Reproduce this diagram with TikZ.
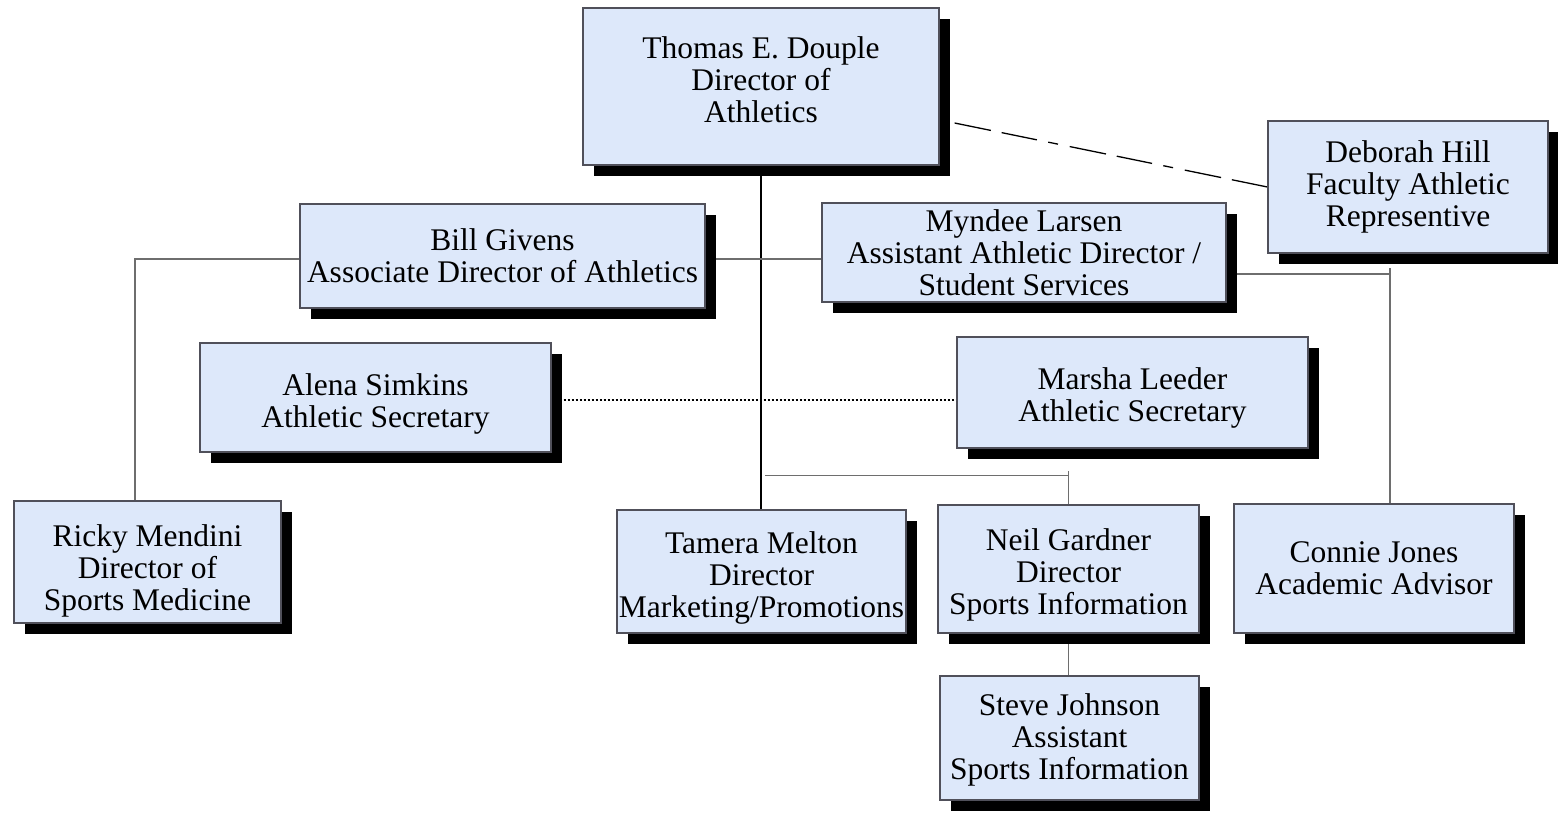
\documentclass[tikz,border=0pt]{standalone}
\usepackage{fontspec}
\setmainfont{Liberation Serif}
\usepackage{tikz}
\newcommand{\shadowoff}{11pt}
% nudge the text block of a box down / up (in px)
\newcommand{\shiftdown}[1]{\rule{0pt}{\dimexpr22pt+#1pt*2\relax}}
\newcommand{\shiftup}[1]{\rule[\dimexpr-#1pt*2\relax]{0pt}{\dimexpr#1pt*2\relax}}
\definecolor{boxBlue}{RGB}{221,232,250}
\definecolor{boxEdge}{RGB}{80,80,90}
\definecolor{lineGray}{RGB}{110,110,110}
\usetikzlibrary{calc,shadows}
\pgfdeclarelayer{bg}
\pgfsetlayers{bg,main}
\tikzset{
  font=\fontsize{31.5}{32}\selectfont,
  rect/.style={draw=boxEdge,fill=boxBlue,line width=1.2pt,shape=rectangle,align=center,inner sep=1pt,
    drop shadow={shadow xshift=\shadowoff,shadow yshift=-\shadowoff,opacity=1,fill=black}},
  line/.style={draw=lineGray,line width=1.2pt},
  trunk/.style={draw=black,line width=1.2pt},
  rep/.style={draw=black,line width=1.3pt,dash pattern=on 37pt off 11pt on 36pt off 11.5pt on 10pt off 12pt},
  dots/.style={draw=black,line width=1.3pt,dash pattern=on 2.5pt off 1.5pt},
}

\begin{document}
\begin{tikzpicture}[x=1pt,y=-1pt]
  \useasboundingbox (0,0) rectangle (1558,812);
  \node (douple) [rect,minimum width=356pt,minimum height=157pt] at (761,86.5) {Thomas E. Douple\\Director of\\Athletics\shiftup{7}};
  \node (hill) [rect,minimum width=280pt,minimum height=132pt] at (1408,187) {Deborah Hill\\Faculty Athletic\\Representive};
  \node (givens) [rect,minimum width=405pt,minimum height=104pt] at (502.5,256) {Bill Givens\\Associate Director of Athletics};
  \node (larsen) [rect,minimum width=404pt,minimum height=99pt] at (1024,252.5) {Myndee Larsen\\Assistant Athletic Director /\\Student Services};
  \node (simkins) [rect,minimum width=351pt,minimum height=109pt] at (375.5,397.5) {\shiftdown{6}Alena Simkins\\Athletic Secretary};
  \node (leeder) [rect,minimum width=351pt,minimum height=111pt] at (1132.5,392.5) {\shiftdown{5}Marsha Leeder\\Athletic Secretary};
  \node (mendini) [rect,minimum width=267pt,minimum height=122pt] at (147.5,562) {\shiftdown{9}Ricky Mendini\\Director of\\Sports Medicine};
  \node (melton) [rect,minimum width=289pt,minimum height=123pt] at (761.5,571.5) {\shiftdown{6}Tamera Melton\\Director\\Marketing/Promotions};
  \node (gardner) [rect,minimum width=261pt,minimum height=128pt] at (1068.5,569) {\shiftdown{6}Neil Gardner\\Director\\Sports Information};
  \node (jones) [rect,minimum width=280pt,minimum height=129pt] at (1374,568.5) {Connie Jones\\Academic Advisor};
  \node (johnson) [rect,minimum width=259pt,minimum height=124pt] at (1069.5,738) {\shiftdown{2}Steve Johnson\\Assistant\\Sports Information};
  \begin{pgfonlayer}{bg}
    \draw [trunk] (douple.south) -- (douple.south |- melton.north);
    \coordinate (gv) at ([yshift=-3pt]givens.east);
    \draw [line] (gv) -- (gv -| larsen.west);
    \coordinate (gw) at ([yshift=-3pt]givens.west);
    \coordinate (mn) at ([xshift=-12.5pt]mendini.north);
    \draw [line] (gw) -- (gw -| mn) -- (mn);
    \coordinate (ls) at ([yshift=-21.5pt]larsen.east);
    \coordinate (jn) at ([xshift=16pt]jones.north);
    \draw [line] (ls) -- (ls -| jn);
    \draw [line] (jn) -- ($(ls -| jn)+(0,-6)$);
    \coordinate (gn) at ([yshift=29pt]gardner.north);
    \draw [line] ($(gn -| douple.south)+(4,0)$) -- (gn);
    \draw [line] (gardner.north) -- ($(gn)+(0,-4)$);
    \draw [line] (gardner.south) -- (gardner.south |- johnson.north);
    \coordinate (sd) at ([yshift=-2.5pt]simkins.east);
    \draw [dots] (sd) -- (sd -| leeder.west);
    \draw [rep] ([shift={(15,36.5)}]douple.east) -- (hill.west);
  \end{pgfonlayer}
\end{tikzpicture}
\end{document}
